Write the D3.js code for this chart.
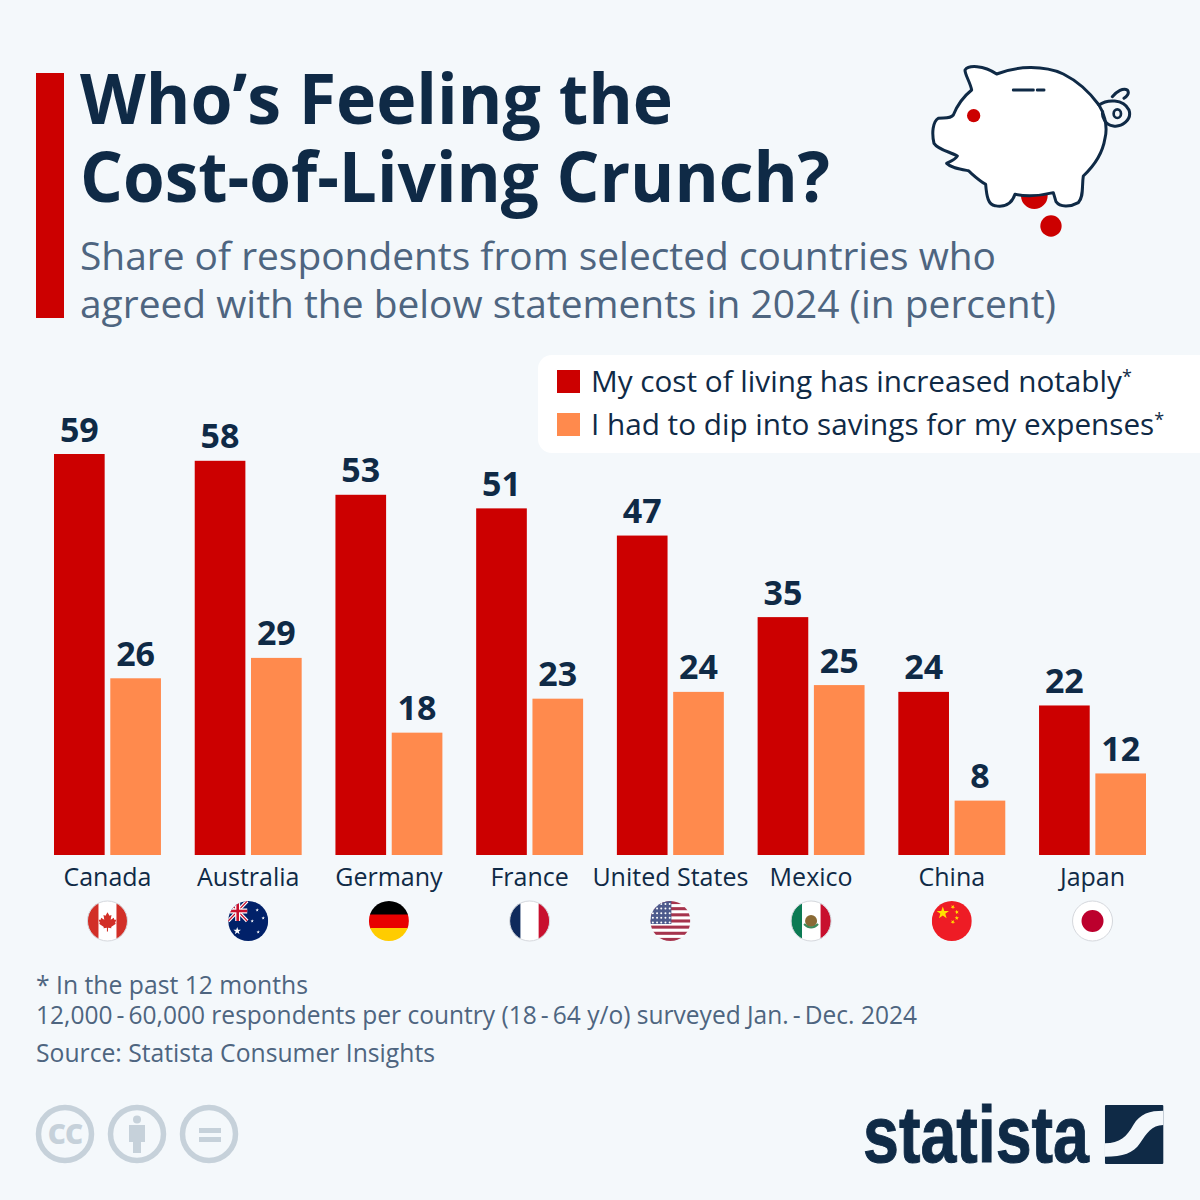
<!DOCTYPE html>
<html>
<head>
<meta charset="utf-8">
<script src="https://d3js.org/d3.v7.min.js"></script>
<style>
  body { margin: 0; background: #f4f8fb; }
  svg { display: block; }
  text { font-family: "Open Sans", "Noto Sans", sans-serif; }
</style>
</head>
<body>
<svg id="chart" width="1200" height="1200"></svg>
<script>
// Data
const countries = ["Canada", "Australia", "Germany", "France", "United States", "Mexico", "China", "Japan"];
const costOfLiving = [59, 58, 53, 51, 47, 35, 24, 22];
const dipSavings = [26, 29, 18, 23, 24, 25, 8, 12];
const seriesKeys = ["cost", "savings"];
const legendLabels = ["My cost of living has increased notably", "I had to dip into savings for my expenses"];
const titleLines = ["Who’s Feeling the", "Cost-of-Living Crunch?"];
const subtitleLines = ["Share of respondents from selected countries who", "agreed with the below statements in 2024 (in percent)"];
const noteLines = ["* In the past 12 months", "12,000\u2009-\u200960,000 respondents per country (18\u2009-\u200964 y/o) surveyed Jan.\u2009-\u2009Dec. 2024", "Source: Statista Consumer Insights"];

const navy = "#0f2a46", slate = "#4e6580", red = "#cc0000", orange = "#ff8a4d", grey = "#c6d1da", bg = "#f4f8fb";
const colors = d3.scaleOrdinal().domain(seriesKeys).range([red, orange]);

const svg = d3.select("#chart");
svg.append("rect").attr("width", 1200).attr("height", 1200).attr("fill", bg);

// Header
svg.append("rect").attr("x", 36).attr("y", 73).attr("width", 28).attr("height", 245).attr("fill", red);

const titleWidths = [593, 750], titleBase = [124, 202];
svg.selectAll(".title").data(titleLines).join("text")
  .attr("class", "title")
  .attr("x", 80).attr("y", (d, i) => titleBase[i])
  .attr("font-size", 69).attr("font-weight", 700).attr("fill", navy)
  .attr("textLength", (d, i) => titleWidths[i]).attr("lengthAdjust", "spacingAndGlyphs")
  .text(d => d);

const subWidths = [916, 976], subBase = [270, 318];
svg.selectAll(".subtitle").data(subtitleLines).join("text")
  .attr("class", "subtitle")
  .attr("x", 80).attr("y", (d, i) => subBase[i])
  .attr("font-size", 38).attr("fill", slate)
  .attr("textLength", (d, i) => subWidths[i]).attr("lengthAdjust", "spacingAndGlyphs")
  .text(d => d);

// Piggy bank, traced in zoomed coordinates
const pig = svg.append("g").attr("transform", "translate(900,50) scale(0.3333)");
pig.append("circle").attr("cx", 403).attr("cy", 437).attr("r", 40).attr("fill", red);
pig.append("circle").attr("cx", 453).attr("cy", 528).attr("r", 32).attr("fill", red);
pig.append("path")
  .attr("d", "M195,60 C205,45 250,45 290,72 C350,48 430,45 490,72 C540,97 575,135 597,165 C610,185 625,225 615,265 C608,310 580,350 550,378 C545,410 552,440 535,458 C510,472 480,472 468,455 L460,428 C420,438 380,440 345,433 C335,465 310,472 285,467 C265,465 260,440 257,403 C235,390 220,375 205,362 C180,358 155,355 140,340 C150,335 165,330 172,318 C150,305 115,300 102,280 C95,250 98,215 115,205 C130,202 150,208 160,195 C170,170 190,140 215,120 C210,95 195,75 195,60 Z")
  .attr("fill", "#fff").attr("stroke", navy).attr("stroke-width", 9).attr("stroke-linejoin", "round");
pig.append("path")
  .attr("d", "M597,165 C620,148 670,145 687,180 C697,210 665,232 640,228 C615,225 605,200 608,185 M637,140 C650,125 670,112 682,120 C690,130 680,140 672,145 M340,120 L400,120 M412,120 L432,120")
  .attr("fill", "none").attr("stroke", navy).attr("stroke-width", 9).attr("stroke-linecap", "round");
pig.append("ellipse").attr("cx", 652).attr("cy", 191).attr("rx", 11).attr("ry", 13)
  .attr("fill", "none").attr("stroke", navy).attr("stroke-width", 8);
pig.append("circle").attr("cx", 221).attr("cy", 197).attr("r", 20).attr("fill", red);

// Legend
svg.append("rect").attr("x", 538).attr("y", 355).attr("width", 680).attr("height", 98).attr("rx", 14).attr("fill", "#fff");
const legendTop = [370, 413];
const legend = svg.selectAll(".legend").data(seriesKeys).join("g").attr("class", "legend");
legend.append("rect").attr("x", 557).attr("y", (d, i) => legendTop[i]).attr("width", 23).attr("height", 23).attr("fill", d => colors(d));
const legendText = legend.append("text")
  .attr("x", 591).attr("y", (d, i) => legendTop[i] + 22)
  .attr("font-size", 29.7).attr("fill", navy);
legendText.append("tspan").text((d, i) => legendLabels[i]);
legendText.append("tspan").attr("dy", -9).attr("font-size", 18).text("*");

// Scales
const y = d3.scaleLinear().domain([0, 59]).range([855, 454]);
const x0 = d3.scaleBand().domain(countries).range([54, 1146]).paddingInner(0.24);
const x1 = d3.scaleBand().domain(seriesKeys).range([0, x0.bandwidth()]).paddingInner(0.1);

const rows = countries.map((c, i) => ({ country: c, values: [
  { key: "cost", value: costOfLiving[i] },
  { key: "savings", value: dipSavings[i] }
] }));

const groups = svg.selectAll(".group").data(rows).join("g")
  .attr("class", "group")
  .attr("transform", d => `translate(${x0(d.country)},0)`);

groups.selectAll("rect").data(d => d.values).join("rect")
  .attr("x", d => x1(d.key)).attr("width", x1.bandwidth())
  .attr("y", d => y(d.value)).attr("height", d => y(0) - y(d.value))
  .attr("fill", d => colors(d.key));

groups.selectAll("text").data(d => d.values).join("text")
  .attr("x", d => x1(d.key) + x1.bandwidth() / 2)
  .attr("y", d => y(d.value) - 12.5)
  .attr("text-anchor", "middle")
  .attr("font-size", 34).attr("font-weight", 700).attr("fill", navy)
  .text(d => d.value);

// Country axis
const axis = svg.append("g").attr("transform", "translate(0,855)")
  .call(d3.axisBottom(x0).tickSize(0).tickPadding(13));
axis.select(".domain").remove();
axis.selectAll("text").attr("font-size", 25).attr("fill", navy)
  .style("font-family", '"Open Sans", sans-serif');

// Flags
const defs = svg.append("defs");
defs.append("clipPath").attr("id", "flagClip").append("circle").attr("r", 20);

function star(g, cx, cy, r, rot, fill) {
  const pts = d3.range(10).map(i => {
    const a = rot + i * Math.PI / 5 - Math.PI / 2, q = i % 2 ? r * 0.4 : r;
    return [cx + q * Math.cos(a), cy + q * Math.sin(a)];
  });
  g.append("polygon").attr("points", pts.join(" ")).attr("fill", fill);
}
function box(g, x, y, w, h, fill) {
  g.append("rect").attr("x", x).attr("y", y).attr("width", w).attr("height", h).attr("fill", fill);
}
const flags = {
  "Canada": g => {
    box(g, -20, -20, 40, 40, "#fff"); box(g, -20, -20, 11, 40, "#d22f27"); box(g, 9, -20, 11, 40, "#d22f27");
    g.append("path").attr("transform", "scale(0.8)")
      .attr("d", "M0,-11 L2.5,-6.5 L5,-7.5 L4,-1.5 L8,-4 L8.5,-1.5 L11,-1.5 L9.5,2.5 L10.5,3.5 L4.5,7.5 L5,9 L0.7,8.5 L0.7,13 L-0.7,13 L-0.7,8.5 L-5,9 L-4.5,7.5 L-10.5,3.5 L-9.5,2.5 L-11,-1.5 L-8.5,-1.5 L-8,-4 L-4,-1.5 L-5,-7.5 L-2.5,-6.5 Z").attr("fill", "#d22f27");
  },
  "Australia": g => {
    box(g, -20, -20, 40, 40, "#012169");
    g.append("path").attr("d", "M-20,-20 L-1,0 M-1,-20 L-20,0").attr("stroke", "#fff").attr("stroke-width", 3.5);
    g.append("path").attr("d", "M-20,-20 L-1,0 M-1,-20 L-20,0").attr("stroke", "#c8102e").attr("stroke-width", 1.2);
    box(g, -20, -12.5, 19, 5, "#fff"); box(g, -13, -20, 5, 20, "#fff");
    box(g, -20, -11.3, 19, 2.6, "#c8102e"); box(g, -11.8, -20, 2.6, 20, "#c8102e");
    star(g, -11, 10, 4, 0, "#fff");
    star(g, 9, -11, 1.8, 0, "#fff"); star(g, 15, -3, 1.8, 0, "#fff"); star(g, 4, 0, 1.8, 0, "#fff"); star(g, 10, 11, 1.8, 0, "#fff");
  },
  "Germany": g => {
    box(g, -20, -20, 40, 14, "#000"); box(g, -20, -6.5, 40, 14, "#e80000"); box(g, -20, 7, 40, 13, "#ffcc00");
  },
  "France": g => {
    box(g, -20, -20, 11, 40, "#0f2a5c"); box(g, -9, -20, 18.5, 40, "#fff"); box(g, 9, -20, 11, 40, "#c8102e");
  },
  "United States": g => {
    box(g, -20, -20, 40, 40, "#fff");
    d3.range(7).forEach(i => box(g, -20, -20 + i * 6.15, 40, 3.07, "#a6344d"));
    box(g, -20, -20, 21, 23, "#4d5a8c");
    d3.range(5).forEach(r => d3.range(5).forEach(c =>
      g.append("circle").attr("cx", -17.5 + c * 4.2).attr("cy", -17 + r * 4.6).attr("r", 1).attr("fill", "#fff")));
  },
  "Mexico": g => {
    box(g, -20, -20, 11, 40, "#0b7a53"); box(g, -9, -20, 19, 40, "#fff"); box(g, 9.5, -20, 10.5, 40, "#c8102e");
    g.append("circle").attr("r", 6).attr("fill", "#8a6a35");
    g.append("path").attr("d", "M-7,3 Q0,10 7,3").attr("fill", "none").attr("stroke", "#3d8a5a").attr("stroke-width", 2);
  },
  "China": g => {
    box(g, -20, -20, 40, 40, "#ee1c25");
    star(g, -9, -8, 6.5, 0, "#ffe000");
    star(g, 1, -14, 2.3, 0.5, "#ffe000"); star(g, 5, -9, 2.3, 1, "#ffe000");
    star(g, 5, -3, 2.3, 0, "#ffe000"); star(g, 1, 1, 2.3, 0.5, "#ffe000");
  },
  "Japan": g => {
    box(g, -20, -20, 40, 40, "#fff");
    g.append("circle").attr("r", 11).attr("fill", "#bc002d");
  }
};
const flagRing = ["Canada", "France", "Mexico", "Japan"];
const flagG = svg.selectAll(".flag").data(countries).join("g")
  .attr("class", "flag")
  .attr("transform", d => `translate(${x0(d) + x0.bandwidth() / 2},921)`);
flagG.each(function (d) {
  const g = d3.select(this);
  flags[d](g.append("g").attr("clip-path", "url(#flagClip)"));
  if (flagRing.includes(d)) g.append("circle").attr("r", 20).attr("fill", "none").attr("stroke", "#d5d8dd").attr("stroke-width", 1);
});

// Footnotes
const noteBase = [994, 1024, 1062], noteWidths = [272, 881, 399];
svg.selectAll(".note").data(noteLines).join("text")
  .attr("class", "note")
  .attr("x", 36).attr("y", (d, i) => noteBase[i])
  .attr("font-size", 24.7).attr("fill", slate)
  .attr("textLength", (d, i) => noteWidths[i]).attr("lengthAdjust", "spacingAndGlyphs")
  .text(d => d);

// Licence icons
const cc = svg.append("g").attr("fill", grey);
[65, 137, 209].forEach(cx => {
  cc.append("circle").attr("cx", cx).attr("cy", 1134).attr("r", 26.5)
    .attr("fill", "none").attr("stroke", grey).attr("stroke-width", 5.5);
});
cc.append("text").attr("x", 65).attr("y", 1144).attr("text-anchor", "middle")
  .attr("font-size", 28).attr("font-weight", 800).attr("letter-spacing", -1).text("CC");
cc.append("circle").attr("cx", 137).attr("cy", 1119.5).attr("r", 4);
cc.append("path").attr("d", "M129,1125 H145 V1142 H141 V1153 H133 V1142 H129 Z");
cc.append("rect").attr("x", 199).attr("y", 1128).attr("width", 22).attr("height", 5);
cc.append("rect").attr("x", 199).attr("y", 1137).attr("width", 22).attr("height", 5);

// Statista logo
svg.append("text").attr("x", 863).attr("y", 1162)
  .attr("font-size", 80).attr("font-weight", 700).attr("fill", navy)
  .attr("stroke", navy).attr("stroke-width", 1)
  .attr("textLength", 226).attr("lengthAdjust", "spacingAndGlyphs")
  .style("font-family", '"Liberation Sans Narrow", "Liberation Sans", sans-serif')
  .text("statista");
const logo = svg.append("g").attr("transform", "translate(850,1090) scale(0.3333)");
logo.append("rect").attr("x", 765).attr("y", 45).attr("width", 175).attr("height", 177).attr("rx", 3).attr("fill", navy);
logo.append("path")
  .attr("d", "M765,160 C810,160 830,140 850,105 C870,70 900,62 940,62 L940,105 C905,105 890,130 870,160 C850,190 820,200 765,200 Z")
  .attr("fill", bg);
</script>
</body>
</html>
